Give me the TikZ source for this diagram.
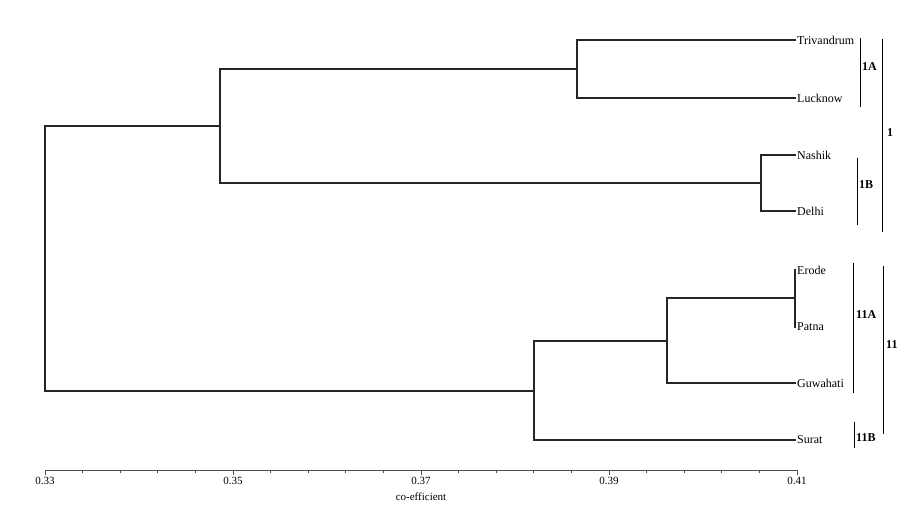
\documentclass[tikz,border=0pt]{standalone}
\usepackage{fontspec}
\setmainfont{Liberation Serif}
\begin{document}
\begin{tikzpicture}[x=1pt,y=-1pt,
  branch/.style={line width=1.3pt, line cap=rect, black!85},
  joint/.style={line width=1.8pt, line cap=rect, black!85},
  leaflabel/.style={anchor=west, inner sep=0pt, font=\fontsize{12}{13}\selectfont},
  grouplabel/.style={anchor=west, inner sep=0pt, font=\fontsize{12}{13}\selectfont\bfseries},
  bracket/.style={line width=0.8pt, black},
  axisline/.style={line width=0.8pt, black!70},
  ticklabel/.style={anchor=north, inner sep=0pt, font=\fontsize{11}{12}\selectfont}]
\useasboundingbox (0,0) rectangle (902,508);
% leaf ends
\foreach \n/\y in {tri/40, luc/98, nas/155, del/211, ero/270, pat/327, guw/383, sur/440}
  \coordinate (\n) at (795,\y);
% leaf labels
\node[leaflabel] (Ltri) at (797,40) {Trivandrum};
\node[leaflabel] (Lluc) at (797,98) {Lucknow};
\node[leaflabel] (Lnas) at (797,155) {Nashik};
\node[leaflabel] (Ldel) at (797,211) {Delhi};
\node[leaflabel] (Lero) at (797,270) {Erode};
\node[leaflabel] (Lpat) at (797,327) {Patna};
\node[leaflabel] (Lguw) at (797,383) {Guwahati};
\node[leaflabel] (Lsur) at (797,440) {Surat};
% internal nodes
\coordinate (a1) at (577,69);
\coordinate (b1) at (761,183);
\coordinate (r1) at (220,126);
\coordinate (ep) at (795,298);
\coordinate (c1) at (667,341);
\coordinate (r2) at (534,391);
\coordinate (root) at (45,258);
% cluster 1A
\draw[branch] (tri) -- (tri -| a1);
\draw[branch] (luc) -- (luc -| a1);
\draw[joint] (tri -| a1) -- (luc -| a1);
% cluster 1B
\draw[branch] (nas) -- (nas -| b1);
\draw[branch] (del) -- (del -| b1);
\draw[joint] (nas -| b1) -- (del -| b1);
% cluster 1
\draw[branch] (a1) -- (a1 -| r1);
\draw[branch] (b1) -- (b1 -| r1);
\draw[joint] (a1 -| r1) -- (b1 -| r1);
% Erode/Patna
\draw[joint] (ero) -- (pat);
\draw[branch] (ep) -- (ep -| c1);
\draw[branch] (guw) -- (guw -| c1);
\draw[joint] (ep -| c1) -- (guw -| c1);
% cluster 11
\draw[branch] (c1) -- (c1 -| r2);
\draw[branch] (sur) -- (sur -| r2);
\draw[joint] (c1 -| r2) -- (sur -| r2);
% root
\draw[branch] (r1) -- (r1 -| root);
\draw[branch] (r2) -- (r2 -| root);
\draw[branch] (r1 -| root) -- (r2 -| root);
% brackets
\draw[bracket] (860,38) -- (860,107);
\node[grouplabel] (g1A) at (862,67) {1A};
\draw[bracket] (857,158) -- (857,225);
\node[grouplabel] (g1B) at (859,185) {1B};
\draw[bracket] (882,39) -- (882,232);
\node[grouplabel] (g1) at (887,133) {1};
\draw[bracket] (853,263) -- (853,393);
\node[grouplabel] (g11A) at (856,315) {11A};
\draw[bracket] (854,422) -- (854,448);
\node[grouplabel] (g11B) at (856,438) {11B};
\draw[bracket] (883,266) -- (883,434);
\node[grouplabel] (g11) at (886,345) {11};
% axis
\draw[axisline] (45,470) -- (797,470);
\foreach \i in {0,...,20} {
  \pgfmathsetmacro{\xx}{45+37.6*\i}
  \draw[axisline] (\xx,470) -- (\xx,472.5);
}
\foreach \v/\i in {0.33/0,0.35/5,0.37/10,0.39/15,0.41/20} {
  \pgfmathsetmacro{\xx}{45+37.6*\i}
  \draw[axisline] (\xx,470) -- (\xx,474.5);
  \node[ticklabel] at (\xx,477) {\v};
}
\node[ticklabel] (axlabel) at (421,493) {co-efficient};
\end{tikzpicture}
\end{document}
